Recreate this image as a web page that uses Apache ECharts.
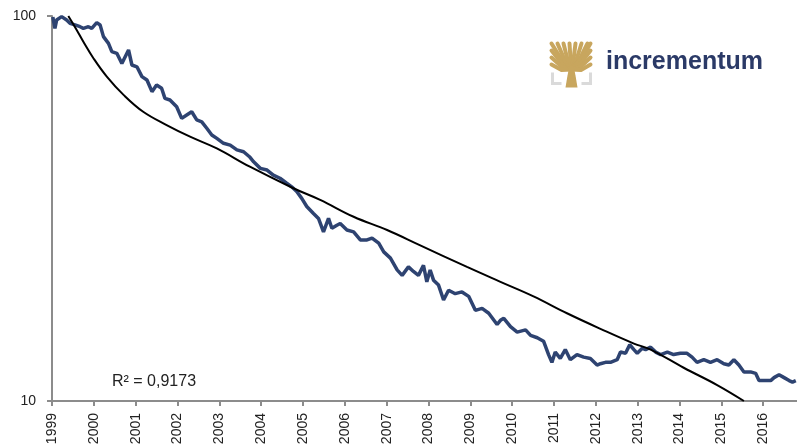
<!DOCTYPE html>
<html>
<head>
<meta charset="utf-8">
<script src="https://cdn.jsdelivr.net/npm/echarts@6/dist/echarts.min.js"></script>
<style>
  html, body { margin: 0; padding: 0; background: #fff; }
  #main { width: 797px; height: 448px; }
</style>
</head>
<body>
<div id="main"></div>
<script>
// index (log scale, 100 = start)
const years = [
  1999.02, 1999.07, 1999.11, 1999.23, 1999.35, 1999.43, 1999.55, 1999.67, 1999.75, 1999.87,
  1999.95, 2000.07, 2000.15, 2000.23, 2000.35, 2000.43, 2000.55, 2000.67, 2000.83, 2000.91,
  2001.03, 2001.15, 2001.27, 2001.39, 2001.50, 2001.62, 2001.70, 2001.82, 2001.98, 2002.10,
  2002.22, 2002.34, 2002.46, 2002.58, 2002.70, 2002.82, 2002.94, 2003.10, 2003.26, 2003.42,
  2003.58, 2003.72, 2003.82, 2003.98, 2004.14, 2004.29, 2004.45, 2004.61, 2004.73, 2004.85,
  2004.97, 2005.09, 2005.25, 2005.37, 2005.49, 2005.61, 2005.69, 2005.81, 2005.89, 2006.05,
  2006.21, 2006.37, 2006.53, 2006.65, 2006.81, 2006.93, 2007.09, 2007.25, 2007.37, 2007.52,
  2007.64, 2007.76, 2007.88, 2007.96, 2008.04, 2008.12, 2008.24, 2008.36, 2008.48, 2008.64,
  2008.80, 2008.96, 2009.12, 2009.28, 2009.44, 2009.64, 2009.72, 2009.80, 2009.96, 2010.12,
  2010.32, 2010.44, 2010.60, 2010.75, 2010.87, 2010.95, 2011.03, 2011.15, 2011.27, 2011.39,
  2011.55, 2011.71, 2011.87, 2012.03, 2012.11, 2012.23, 2012.35, 2012.51, 2012.59, 2012.71,
  2012.81, 2012.91, 2012.99, 2013.11, 2013.19, 2013.31, 2013.43, 2013.55, 2013.71, 2013.86,
  2014.02, 2014.18, 2014.30, 2014.42, 2014.58, 2014.74, 2014.90, 2015.06, 2015.18, 2015.30,
  2015.42, 2015.54, 2015.70, 2015.82, 2015.90, 2016.02, 2016.18, 2016.26, 2016.38, 2016.50,
  2016.62, 2016.70, 2016.78
];
const values = [
  99.4, 92.9, 97.6, 99.6, 97.6, 95.7, 94.8, 93.8, 92.9, 93.8,
  92.9, 96.1, 94.8, 88.4, 84.9, 80.8, 80.0, 75.3, 81.6, 74.6,
  73.8, 69.6, 68.2, 63.6, 66.2, 64.9, 61.1, 60.5, 58.1, 54.2,
  55.3, 56.4, 53.7, 53.1, 51.1, 49.1, 48.1, 46.7, 46.2, 44.9,
  44.4, 43.1, 41.8, 40.2, 39.8, 38.6, 37.9, 36.8, 36.0, 35.0,
  33.6, 32.0, 30.7, 29.8, 27.5, 29.8, 28.1, 28.6, 28.9, 27.8,
  27.5, 26.2, 26.2, 26.5, 25.7, 24.4, 23.5, 21.9, 21.2, 22.3,
  21.7, 21.2, 22.5, 20.4, 21.9, 20.6, 20.0, 18.3, 19.4, 19.0,
  19.2, 18.7, 17.2, 17.4, 16.9, 15.8, 16.2, 16.4, 15.6, 15.1,
  15.3, 14.8, 14.6, 14.3, 13.2, 12.6, 13.4, 12.9, 13.6, 12.8,
  13.2, 13.0, 12.9, 12.4, 12.5, 12.6, 12.6, 12.8, 13.4, 13.3,
  14.0, 13.6, 13.3, 13.7, 13.6, 13.8, 13.4, 13.2, 13.4, 13.2,
  13.3, 13.3, 13.0, 12.6, 12.8, 12.6, 12.8, 12.5, 12.4, 12.8,
  12.4, 11.9, 11.9, 11.8, 11.3, 11.3, 11.3, 11.5, 11.7, 11.5,
  11.3, 11.2, 11.3
];

// trend line
const trendYears = [
  1999.39, 1999.59, 1999.75, 1999.99, 2000.31, 2000.71, 2001.18, 2001.74, 2002.30, 2002.94,
  2003.73, 2004.77, 2005.41, 2006.21, 2007.01, 2007.79, 2008.92, 2009.72, 2010.51, 2011.31,
  2012.11, 2012.91, 2013.31, 2014.10, 2014.90, 2015.54
];
const trendValues = [
  100, 92.0, 85.7, 77.7, 69.6, 62.4, 56.4, 52.1, 48.6, 45.3,
  40.6, 35.7, 33.3, 30.1, 27.8, 25.4, 22.3, 20.4, 18.7, 16.9,
  15.4, 14.1, 13.6, 12.2, 11.0, 10.0
];

const rSquared = 'R² = 0,9173';

const FONT = '"Liberation Sans", Arial, sans-serif';
const NAVY = '#2E4371';
const GOLD = '#C8A65E';

const chart = echarts.init(document.getElementById('main'));

// logo tree: branches fan out from the trunk top to the edges of a square
const branchEnds = [
  [0, 0], [0, 7], [0, 14], [0, 21], [6, 0], [12, 0], [18, 0], [24, 0], [30, 0], [36, 0],
  [39, 0], [39, 7], [39, 14], [39, 21]
];
const branches = branchEnds.map(p => ({
  type: 'polyline',
  shape: { points: [[20, 26], [(20 + p[0]) / 2, (26 + p[1]) / 2 + 3], p] },
  style: { stroke: GOLD, lineWidth: 4, fill: null, lineCap: 'round', lineJoin: 'round' }
}));

const option = {
  animation: false,
  backgroundColor: '#fff',
  grid: { left: 52, right: -8, top: 16, bottom: 47, containLabel: false, outerBoundsMode: 'none' },
  xAxis: {
    type: 'value',
    min: 1999,
    max: 2017,
    interval: 1,
    axisLine: { show: true, lineStyle: { color: '#8c8c8c', width: 2 } },
    axisTick: { show: true, length: 5, lineStyle: { color: '#8c8c8c', width: 2 } },
    axisLabel: {
      rotate: 90,
      margin: 12,
      fontSize: 14,
      fontFamily: FONT,
      color: '#222',
      formatter: v => (Number.isInteger(v) ? String(v) : '')
    },
    splitLine: { show: false }
  },
  yAxis: {
    type: 'log',
    logBase: 10,
    min: 10,
    max: 100,
    axisLine: { show: true, lineStyle: { color: '#8c8c8c', width: 2 } },
    axisTick: { show: true, length: 5, lineStyle: { color: '#8c8c8c', width: 2 } },
    axisLabel: { margin: 16, fontSize: 14, fontFamily: FONT, color: '#222' },
    splitLine: { show: false }
  },
  series: [
    {
      type: 'line',
      data: years.map((y, i) => [y, values[i]]),
      showSymbol: false,
      lineStyle: { color: NAVY, width: 3.5 },
      z: 2
    },
    {
      type: 'line',
      data: trendYears.map((y, i) => [y, trendValues[i]]),
      showSymbol: false,
      smooth: 0.4,
      lineStyle: { color: '#000', width: 2 },
      z: 3
    }
  ],
  graphic: [
    {
      type: 'text', left: 112, top: 374,
      style: { text: rSquared, fontSize: 16, fontFamily: FONT, fill: '#222' }
    },
    {
      type: 'group', left: 549, top: 41,
      children: branches.concat([
        { type: 'polygon', shape: { points: [[14, 44], [26, 44], [24, 32], [22, 22], [18, 22], [16, 32]] }, style: { fill: GOLD } },
        { type: 'polyline', shape: { points: [[1, 29], [1, 40], [10, 40]] }, style: { stroke: '#dadada', lineWidth: 3, fill: null } },
        { type: 'polyline', shape: { points: [[30, 40], [39, 40], [39, 29]] }, style: { stroke: '#dadada', lineWidth: 3, fill: null } }
      ])
    },
    {
      type: 'text', left: 606, top: 50,
      style: { text: 'incrementum', fontSize: 25, fontWeight: 'bold', fontFamily: FONT, fill: '#2B3A67' }
    }
  ]
};

chart.setOption(option);
</script>
</body>
</html>
